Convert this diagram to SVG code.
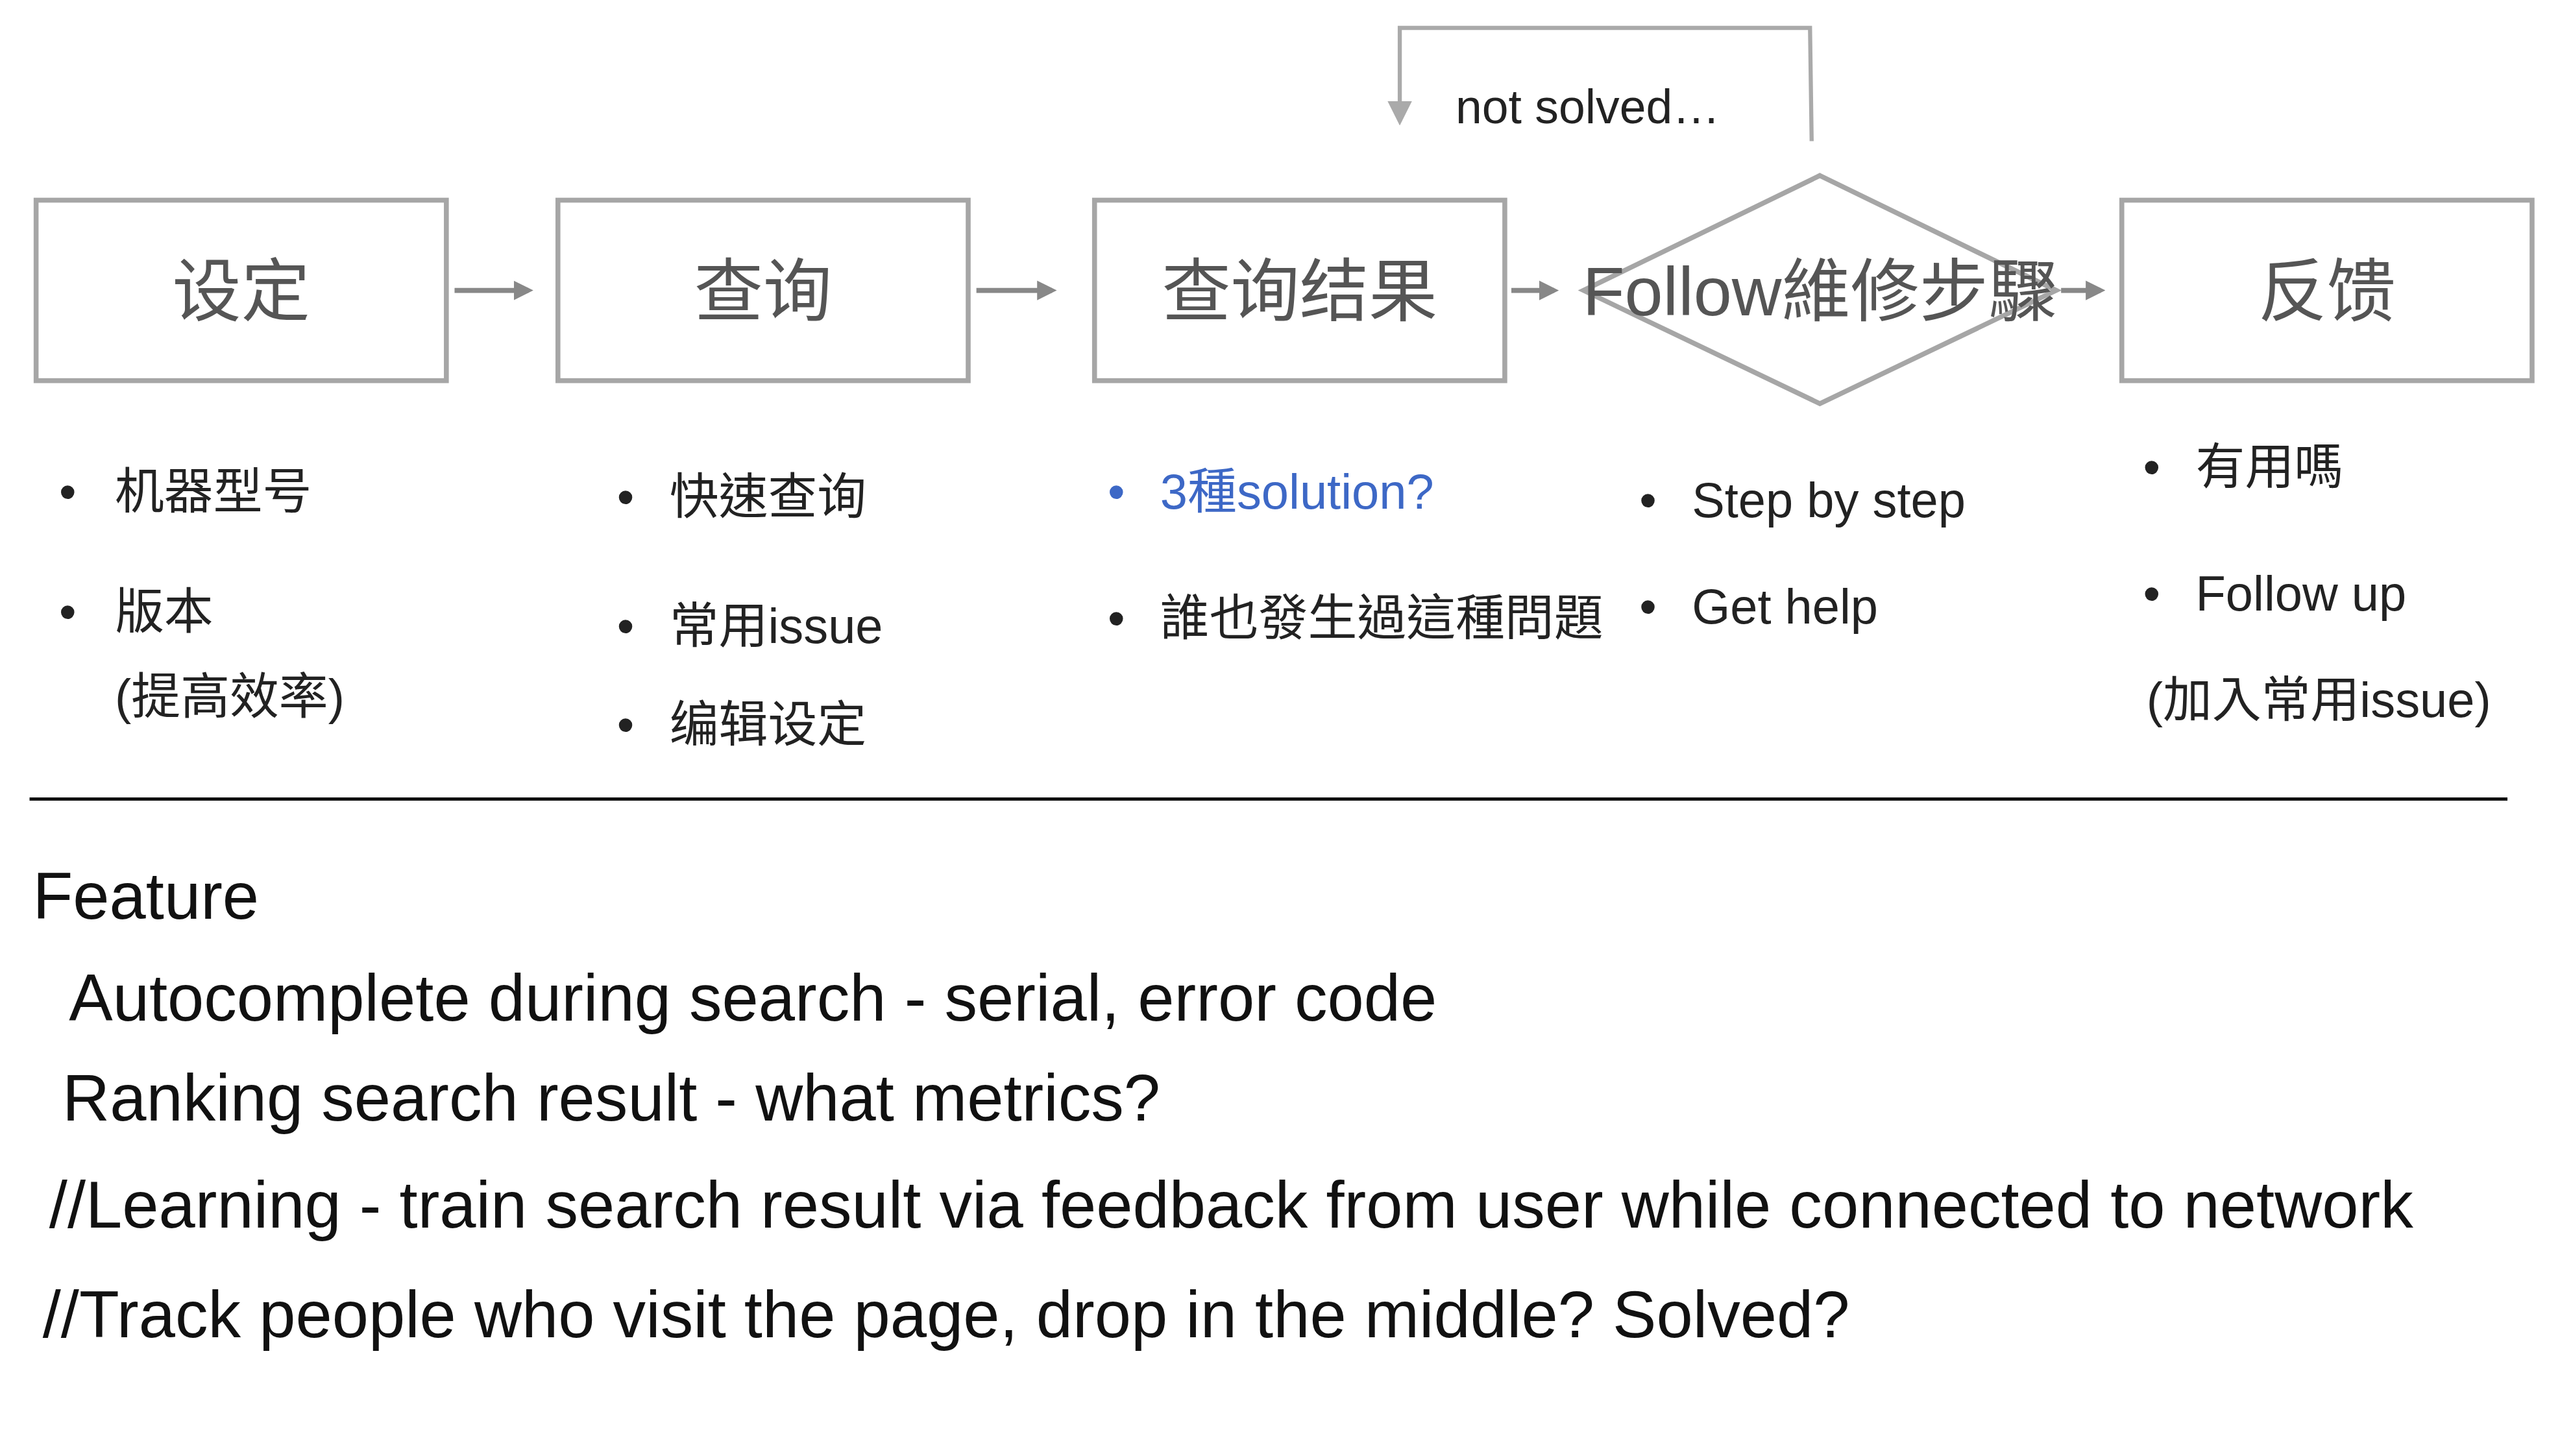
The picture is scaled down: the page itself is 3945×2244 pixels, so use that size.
<svg xmlns="http://www.w3.org/2000/svg" width="3945" height="2244" viewBox="0 0 3945 2244">
<style>
.box{fill:#fff;stroke:#a6a6a6;stroke-width:3}
.bt{font-family:"Liberation Sans","Noto Sans CJK SC",sans-serif;font-size:42px;fill:#555;text-anchor:middle}
.t{font-family:"Liberation Sans","Noto Sans CJK TC",sans-serif;font-size:30px;fill:#222}
.f{font-family:"Liberation Sans",sans-serif;font-size:40px;fill:#111}
.c{fill:none;stroke:#888;stroke-width:3}
</style>
<defs><marker id="ah" markerWidth="4" markerHeight="4" refX="3" refY="2" orient="auto"><path d="M0,0L4,2L0,4z" fill="#888"/></marker>
<marker id="ah2" markerWidth="6" markerHeight="6" refX="5" refY="3" orient="auto"><path d="M0,0L6,3L0,6z" fill="#aaa"/></marker></defs>
<rect width="3945" height="2244" fill="#fff"/>
<g transform="scale(2.5288)">
<g id="n1"><rect class="box" x="22" y="122" width="250" height="110"/><text class="bt" x="147" y="192">设定</text></g>
<g id="n2"><rect class="box" x="340" y="122" width="250" height="110"/><text class="bt" x="465" y="192">查询</text></g>
<g id="n3"><rect class="box" x="667" y="122" width="250" height="110"/><text class="bt" x="792" y="192">查询结果</text></g>
<g id="n4"><polygon points="1109,107 1253,177 1109,246 965,177" fill="none" stroke="#a6a6a6" stroke-width="3"/><text class="bt" x="1109" y="192">Follow維修步驟</text></g>
<g id="n5"><rect class="box" x="1293" y="122" width="250" height="110"/><text class="bt" x="1418" y="192">反馈</text></g>
<g id="connectors">
<line class="c" x1="277" y1="177" x2="322" y2="177" marker-end="url(#ah)"/>
<line class="c" x1="595" y1="177" x2="641" y2="177" marker-end="url(#ah)"/>
<line class="c" x1="921" y1="177" x2="947" y2="177" marker-end="url(#ah)"/>
<line class="c" x1="1256" y1="177" x2="1280" y2="177" marker-end="url(#ah)"/>
<polyline points="1104,86 1103,17 853,17 853,74" fill="none" stroke="#aaa" stroke-width="2.5" marker-end="url(#ah2)"/>
<text class="t" x="887" y="75" style="font-size:29px">not solved…</text>
</g>
<g id="lists" class="t">
<text class="t" x="36" y="310">•</text><text class="t" x="70" y="310">机器型号</text>
<text class="t" x="36" y="383">•</text><text class="t" x="70" y="383">版本</text>
<text class="t" x="70" y="435">(提高效率)</text>
<text class="t" x="376" y="313">•</text><text class="t" x="408" y="313">快速查询</text>
<text class="t" x="376" y="392">•</text><text class="t" x="408" y="392">常用issue</text>
<text class="t" x="376" y="452">•</text><text class="t" x="408" y="452">编辑设定</text>
<text class="t" x="675" y="310" fill="#3d68c6" style="fill:#3d68c6">•</text><text class="t" x="707" y="310" style="fill:#3d68c6">3種solution?</text>
<text class="t" x="675" y="387">•</text><text class="t" x="707" y="387">誰也發生過這種問題</text>
<text class="t" x="999" y="315">•</text><text class="t" x="1031" y="315">Step by step</text>
<text class="t" x="999" y="380">•</text><text class="t" x="1031" y="380">Get help</text>
<text class="t" x="1306" y="295">•</text><text class="t" x="1338" y="295">有用嗎</text>
<text class="t" x="1306" y="372">•</text><text class="t" x="1338" y="372">Follow up</text>
<text class="t" x="1308" y="437">(加入常用issue)</text>
</g>
<line x1="18" y1="487" x2="1528" y2="487" stroke="#111" stroke-width="2"/>
<g id="features">
<text class="f" x="20" y="560">Feature</text>
<text class="f" x="42" y="622">Autocomplete during search - serial, error code</text>
<text class="f" x="38" y="683">Ranking search result - what metrics?</text>
<text class="f" x="30" y="748">//Learning - train search result via feedback from user while connected to network</text>
<text class="f" x="26" y="815">//Track people who visit the page, drop in the middle? Solved?</text>
</g>
</g>
</svg>
